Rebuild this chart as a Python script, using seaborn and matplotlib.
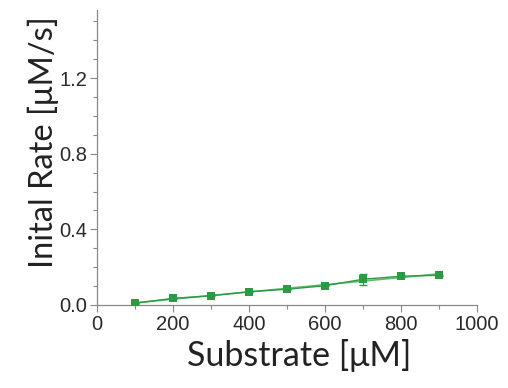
import numpy as np
import pandas as pd
import matplotlib
matplotlib.use("Agg")
import matplotlib.pyplot as plt
import seaborn as sns
from matplotlib.ticker import MultipleLocator

substrate = [100, 200, 300, 400, 500, 600, 700, 800, 900]
rate = [0.009, 0.035, 0.049, 0.070, 0.083, 0.102, 0.136, 0.152, 0.157]
rate_err = [0.004, 0.004, 0.003, 0.004, 0.004, 0.003, 0.030, 0.004, 0.004]

df = pd.DataFrame({"Substrate": substrate, "Rate": rate, "Err": rate_err})

sns.set_theme(style="ticks")
plt.rcParams['font.family'] = ['Liberation Sans', 'DejaVu Sans']

fig = plt.figure(figsize=(5.08, 3.88), dpi=100)
ax = fig.add_axes([0.191, 0.214, 0.748, 0.760])

green = "#2a9a44"
coef = np.polyfit(df["Substrate"], df["Rate"], 1)
fx = np.array([df["Substrate"].min(), df["Substrate"].max()])
ax.plot(fx, np.polyval(coef, fx), color="#5cbf6a", lw=1.2, zorder=2)
ax.errorbar(df["Substrate"], df["Rate"], yerr=df["Err"], fmt="none",
            ecolor=green, elinewidth=0.8, capsize=3, zorder=3)
sns.lineplot(data=df, x="Substrate", y="Rate", ax=ax, color=green, lw=1.0,
             marker="s", markersize=5.5, markeredgewidth=0, zorder=4)

ax.set_xlim(0, 1000)
ax.set_ylim(0, 1.56)
ax.xaxis.set_major_locator(MultipleLocator(200))
ax.xaxis.set_minor_locator(MultipleLocator(100))
ax.yaxis.set_minor_locator(MultipleLocator(0.1))
ax.set_yticks([0.0, 0.4, 0.8, 1.2])
ax.yaxis.set_major_formatter(matplotlib.ticker.FormatStrFormatter("%.1f"))

for s in ["top", "right"]:
    ax.spines[s].set_visible(False)
for s in ["left", "bottom"]:
    ax.spines[s].set_color("#888888")
    ax.spines[s].set_linewidth(0.9)
ax.tick_params(which="major", length=5, width=0.8, color="#888888",
               labelsize=14.5, labelcolor="#2a2a2a", pad=2)
ax.tick_params(which="minor", length=3, width=0.8, color="#888888")
for lab in ax.get_xticklabels() + ax.get_yticklabels():
    lab.set_family(["Liberation Sans", "DejaVu Sans"])

ax.set_xlabel("Substrate [μM]", fontsize=24.5, family=["Lato", "DejaVu Sans"],
              color="#222222")
ax.set_ylabel("Inital Rate [μM/s]", fontsize=23.5, family=["Lato", "DejaVu Sans"],
              color="#222222")
ax.xaxis.set_label_coords(0.532, -0.115)
ax.yaxis.set_label_coords(-0.10, 0.553)

fig.savefig("out.png", dpi=100)
